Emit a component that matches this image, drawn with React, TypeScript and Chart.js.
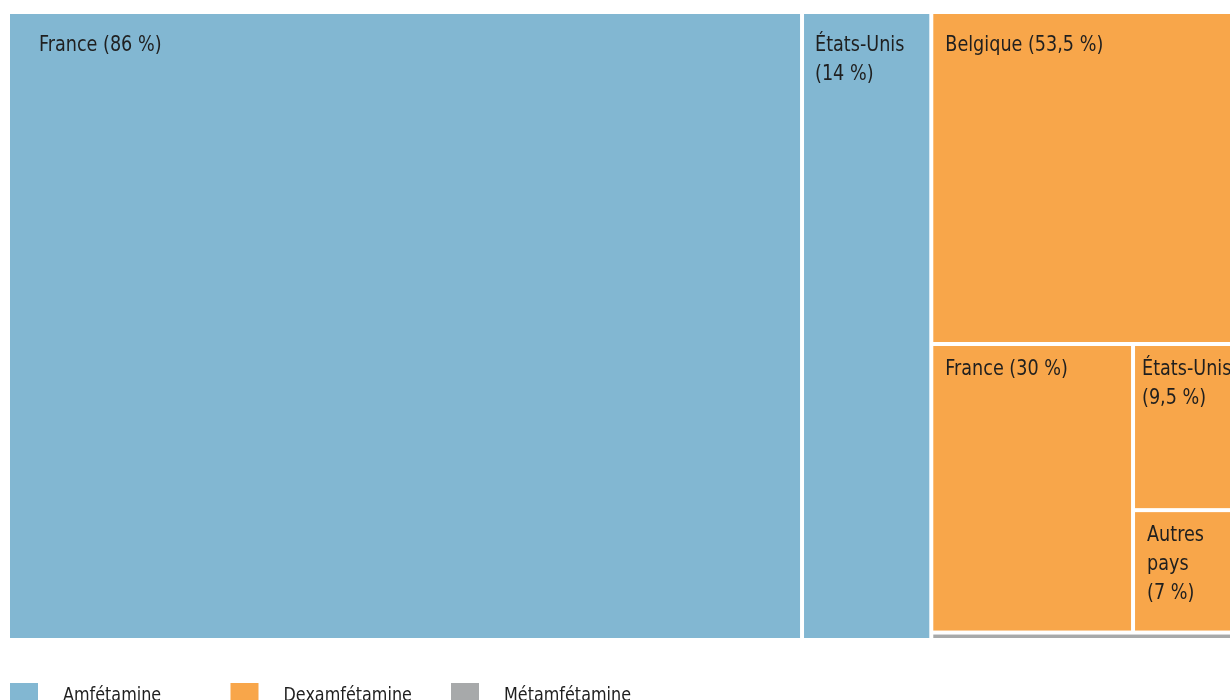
import { useEffect, useRef } from "react";
import { Chart, registerables } from "chart.js";

Chart.register(...registerables);

// ---- Data ----
const groups = ["Amfétamine", "Dexamfétamine", "Métamfétamine"];
const groupShares = [74.7, 25.0, 0.3];
const amfCountries = ["France", "États-Unis"];
const amfValues = [86, 14];
const dexCountries = ["Belgique", "France", "États-Unis", "Autres pays"];
const dexValues = [53.5, 30, 9.5, 7];
const metCountries = [""];
const metValues = [100];

// ---- Styles ----
const groupColors = ["#82B7D2", "#F8A64A", "#A7A9AA"];
const showLabels = [true, true, false];
const labelOffsets: number[][][] = [
  [[29, 31], [11, 31]],
  [[12, 31], [12, 23], [7, 23], [12, 23]],
  [[0, 0]],
];
const FONT = "'DejaVu Sans Condensed', 'Liberation Sans', sans-serif";
const TEXT_SCALE_X = 0.89;
const LAYOUT_W = 1236;
const LAYOUT_H = 628;

type Rect = { x: number; y: number; w: number; h: number };

const sum = (a: number[]) => a.reduce((s, v) => s + v, 0);

function worst(row: number[], side: number): number {
  const s = sum(row);
  const mx = Math.max(...row);
  const mn = Math.min(...row);
  return Math.max((side * side * mx) / (s * s), (s * s) / (side * side * mn));
}

function layoutRow(row: number[], r: Rect, out: Rect[]): Rect {
  const s = sum(row);
  if (r.w >= r.h) {
    const cw = s / r.h;
    let y = r.y;
    for (const a of row) {
      const h = a / cw;
      out.push({ x: r.x, y, w: cw, h });
      y += h;
    }
    return { x: r.x + cw, y: r.y, w: r.w - cw, h: r.h };
  } else {
    const rh = s / r.w;
    let x = r.x;
    for (const a of row) {
      const w = a / rh;
      out.push({ x, y: r.y, w, h: rh });
      x += w;
    }
    return { x: r.x, y: r.y + rh, w: r.w, h: r.h - rh };
  }
}

function squarify(values: number[], rect: Rect): Rect[] {
  const total = sum(values);
  const area = rect.w * rect.h;
  const areas = values.map((v) => (v / total) * area);
  const out: Rect[] = [];
  let r = { ...rect };
  let row: number[] = [];
  let i = 0;
  while (i < areas.length) {
    const side = Math.min(r.w, r.h);
    const a = areas[i];
    if (row.length === 0 || worst([...row, a], side) <= worst(row, side)) {
      row.push(a);
      i++;
    } else {
      r = layoutRow(row, r, out);
      row = [];
    }
  }
  if (row.length) layoutRow(row, r, out);
  return out;
}

const fmt = (v: number) => String(v).replace(".", ",") + "\u00a0%";

function wrap(ctx: CanvasRenderingContext2D, text: string, maxW: number): string[] {
  const words = text.split(" ");
  const lines: string[] = [];
  let cur = "";
  for (const w of words) {
    const t = cur ? cur + " " + w : w;
    if (cur && ctx.measureText(t).width * TEXT_SCALE_X > maxW) {
      lines.push(cur);
      cur = w;
    } else cur = t;
  }
  if (cur) lines.push(cur);
  return lines;
}

function drawText(ctx: CanvasRenderingContext2D, t: string, x: number, y: number) {
  ctx.save();
  ctx.translate(x, y);
  ctx.scale(TEXT_SCALE_X, 1);
  ctx.fillText(t, 0, 0);
  ctx.restore();
}

const childNames = [amfCountries, dexCountries, metCountries];
const childValues = [amfValues, dexValues, metValues];

const treemapPlugin = {
  id: "treemapDraw",
  afterDatasetsDraw(chart: any) {
    const ctx: CanvasRenderingContext2D = chart.ctx;
    const xs = chart.scales.x;
    const ys = chart.scales.y;
    const groupRects = squarify(groupShares, { x: 0, y: 0, w: LAYOUT_W, h: LAYOUT_H });
    const gap = 2;
    groupRects.forEach((gr, gi) => {
      const leaves = squarify(childValues[gi], gr);
      leaves.forEach((lr, li) => {
        const x0 = xs.getPixelForValue(lr.x) + gap;
        const x1 = xs.getPixelForValue(lr.x + lr.w) - gap;
        const y0 = ys.getPixelForValue(lr.y) + gap;
        const y1 = ys.getPixelForValue(lr.y + lr.h) - gap;
        ctx.save();
        ctx.fillStyle = groupColors[gi];
        ctx.fillRect(x0, y0, Math.max(0, x1 - x0), Math.max(0, y1 - y0));
        ctx.restore();
        if (showLabels[gi]) {
          const [dx, dy] = labelOffsets[gi][li];
          ctx.save();
          ctx.font = `22px ${FONT}`;
          ctx.fillStyle = "#1f1f1f";
          ctx.textBaseline = "middle";
          ctx.textAlign = "left";
          const text = `${childNames[gi][li]} (${fmt(childValues[gi][li])})`;
          const lines = wrap(ctx, text, x1 - x0 - dx - 6);
          lines.forEach((ln, k) => {
            drawText(ctx, ln, x0 + dx, y0 + dy + k * 29);
          });
          ctx.restore();
        }
      });
    });

    // legend
    ctx.save();
    groups.forEach((g, i) => {
      const lx = 10 + i * 220.5;
      ctx.fillStyle = groupColors[i];
      ctx.fillRect(lx, 683, 28, 28);
      ctx.fillStyle = "#1f1f1f";
      ctx.font = `20px ${FONT}`;
      ctx.textBaseline = "alphabetic";
      drawText(ctx, g, lx + 53, 701);
    });
    ctx.restore();
  },
};

export default function App() {
  const ref = useRef<HTMLCanvasElement | null>(null);
  useEffect(() => {
    if (!ref.current) return;
    const chart = new Chart(ref.current, {
      type: "scatter",
      data: {
        datasets: groups.map((g, i) => ({
          label: g,
          data: [] as { x: number; y: number }[],
          backgroundColor: groupColors[i],
        })),
      },
      options: {
        responsive: false,
        animation: false,
        devicePixelRatio: 1,
        layout: { padding: { left: 8, top: 12, right: 6, bottom: 60 } },
        scales: {
          x: { type: "linear", min: 0, max: LAYOUT_W, display: false },
          y: { type: "linear", min: 0, max: LAYOUT_H, reverse: true, display: false },
        },
        plugins: {
          legend: { display: false },
          tooltip: { enabled: false },
        },
      },
      plugins: [treemapPlugin],
    });
    return () => chart.destroy();
  }, []);
  return (
    <div
      style={{
        position: "fixed",
        left: 0,
        top: 0,
        width: 1230,
        height: 700,
        overflow: "hidden",
        background: "#ffffff",
      }}
    >
      <canvas ref={ref} width={1250} height={700} style={{ display: "block" }} />
    </div>
  );
}
